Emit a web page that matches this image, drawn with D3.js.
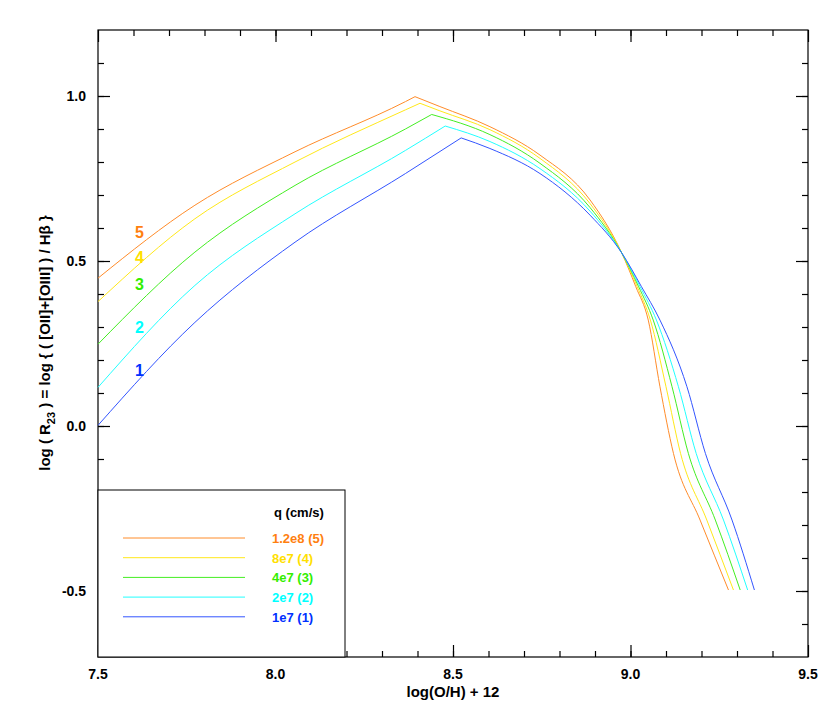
<!DOCTYPE html>
<html><head><meta charset="utf-8">
<script src="https://cdn.jsdelivr.net/npm/d3@7"></script>
<style>
body{margin:0;background:#fff;}
text{font-family:"Liberation Sans",Helvetica,Arial,sans-serif;font-weight:bold;}
</style></head>
<body><svg id="chart" width="830" height="719"></svg>
<script>
// q values and labels
var seriesNames = ["1.2e8 (5)", "8e7 (4)", "4e7 (3)", "2e7 (2)", "1e7 (1)"];
var seriesTags = ["5", "4", "3", "2", "1"];
var seriesColors = ["#ff8c2a", "#ffe81a", "#44ee22", "#22ffff", "#3355ff"];
var labelColors = ["#ff7f10", "#ffe000", "#33ee00", "#00ffff", "#0030ff"];

// lower branch (rising), [log(O/H)+12, log R23]
var lowBranch = [
  [[7.5,0.448],[7.773,0.669],[8.055,0.831],[8.366,0.983],[8.393,0.998]],
  [[7.5,0.377],[7.773,0.628],[8.055,0.800],[8.366,0.958],[8.407,0.978]],
  [[7.5,0.248],[7.773,0.527],[8.055,0.729],[8.366,0.900],[8.440,0.944]],
  [[7.5,0.117],[7.773,0.426],[8.055,0.643],[8.366,0.835],[8.478,0.909]],
  [[7.5,0.002],[7.773,0.314],[8.055,0.557],[8.366,0.765],[8.523,0.873]]
];
// upper branch (falling)
var highBranch = [
  [[8.393,0.998],[8.463,0.968],[8.604,0.907],[8.745,0.821],[8.886,0.685],[8.975,0.525],[9.015,0.422],[9.050,0.321],[9.083,0.119],[9.121,-0.083],[9.196,-0.285],[9.276,-0.497]],
  [[8.407,0.978],[8.463,0.955],[8.604,0.898],[8.745,0.811],[8.886,0.674],[8.975,0.525],[9.019,0.422],[9.056,0.321],[9.100,0.119],[9.141,-0.083],[9.215,-0.285],[9.290,-0.497]],
  [[8.440,0.944],[8.604,0.883],[8.745,0.796],[8.886,0.662],[8.975,0.525],[9.023,0.422],[9.064,0.321],[9.117,0.119],[9.163,-0.083],[9.239,-0.285],[9.309,-0.497]],
  [[8.478,0.909],[8.604,0.862],[8.745,0.780],[8.886,0.651],[8.975,0.525],[9.027,0.422],[9.073,0.321],[9.135,0.119],[9.185,-0.083],[9.262,-0.285],[9.330,-0.497]],
  [[8.523,0.873],[8.604,0.841],[8.745,0.765],[8.886,0.639],[8.975,0.525],[9.031,0.422],[9.083,0.321],[9.159,0.119],[9.211,-0.083],[9.286,-0.285],[9.349,-0.497]]
];
var xTicks = [7.5, 8.0, 8.5, 9.0, 9.5];
var yTicks = [-0.5, 0.0, 0.5, 1.0];

var svg = d3.select("#chart");
var pLeft = 98, pRight = 808, pTop = 30, pBottom = 657;
var x = d3.scaleLinear().domain([7.5, 9.5]).range([pLeft, pRight]);
var y = d3.scaleLinear().domain([-0.7, 1.2]).range([pBottom, pTop]);

// ticks on all four sides, pointing inward
function ticks(axisFn, scale, vals, minor, pos, len) {
  var g = svg.append("g").attr("transform", pos);
  g.call(axisFn(scale).tickValues(minor).tickSize(-len / 2).tickFormat(""));
  g.append("g").call(axisFn(scale).tickValues(vals).tickSize(-len).tickFormat(""));
  g.selectAll(".domain").remove();
  g.selectAll("line").attr("stroke", "#000").attr("stroke-width", 1.2);
  return g;
}
var xMinor = d3.range(7.6, 9.45, 0.1), yMinor = d3.range(-0.6, 1.15, 0.1);
ticks(d3.axisBottom, x, xTicks, xMinor, "translate(0," + pBottom + ")", 12);
ticks(d3.axisTop, x, xTicks, xMinor, "translate(0," + pTop + ")", 12);
ticks(d3.axisLeft, y, yTicks, yMinor, "translate(" + pLeft + ",0)", 12);
ticks(d3.axisRight, y, yTicks, yMinor, "translate(" + pRight + ",0)", 12);

svg.append("rect").attr("x", pLeft).attr("y", pTop).attr("width", pRight - pLeft).attr("height", pBottom - pTop)
  .attr("fill", "none").attr("stroke", "#000").attr("stroke-width", 1.2);

svg.selectAll(".xl").data(xTicks).enter().append("text")
  .attr("x", function(d) { return x(d); }).attr("y", pBottom + 22)
  .attr("text-anchor", "middle").attr("font-size", 14).text(function(d) { return d.toFixed(1); });
svg.selectAll(".yl").data(yTicks).enter().append("text")
  .attr("x", pLeft - 12).attr("y", function(d) { return y(d) + 5; })
  .attr("text-anchor", "end").attr("font-size", 14).text(function(d) { return d.toFixed(1); });

svg.append("text").attr("x", (pLeft + pRight) / 2).attr("y", 697).attr("text-anchor", "middle")
  .attr("font-size", 15).text("log(O/H) + 12");
var yt = svg.append("text").attr("transform", "translate(50,343) rotate(-90)")
  .attr("text-anchor", "middle").attr("font-size", 15);
yt.append("tspan").text("log ( R");
yt.append("tspan").attr("font-size", 11).attr("dy", 5).text("23");
yt.append("tspan").attr("dy", -5).text(" ) = log { ( [OII]+[OIII] ) / H\u03b2 }");

var line = d3.line().x(function(d) { return x(d[0]); }).y(function(d) { return y(d[1]); })
  .curve(d3.curveMonotoneX);
var plot = svg.append("g");
[lowBranch, highBranch].forEach(function(branch) {
  plot.selectAll(null).data(branch).enter().append("path")
    .attr("d", line).attr("fill", "none").attr("stroke-width", 1)
    .attr("stroke", function(d, i) { return seriesColors[i]; });
});

// curve numbers at the left
var tagY = [238, 263, 290, 333, 376];
svg.selectAll(".tag").data(seriesTags).enter().append("text")
  .attr("x", 135).attr("y", function(d, i) { return tagY[i]; })
  .attr("font-size", 16).attr("fill", function(d, i) { return labelColors[i]; }).text(function(d) { return d; });

// legend
var lg = svg.append("g");
lg.append("rect").attr("x", pLeft).attr("y", 490).attr("width", 247).attr("height", pBottom - 490)
  .attr("fill", "#fff").attr("stroke", "#000").attr("stroke-width", 1);
lg.append("text").attr("x", 274).attr("y", 517).attr("font-size", 13).text("q (cm/s)");
seriesNames.forEach(function(n, i) {
  var yy = 538 + i * 19.7;
  lg.append("line").attr("x1", 123).attr("x2", 245).attr("y1", yy).attr("y2", yy)
    .attr("stroke", seriesColors[i]).attr("stroke-width", 1);
  lg.append("text").attr("x", 272).attr("y", yy + 5).attr("font-size", 13)
    .attr("fill", labelColors[i]).text(n);
});
</script></body></html>
